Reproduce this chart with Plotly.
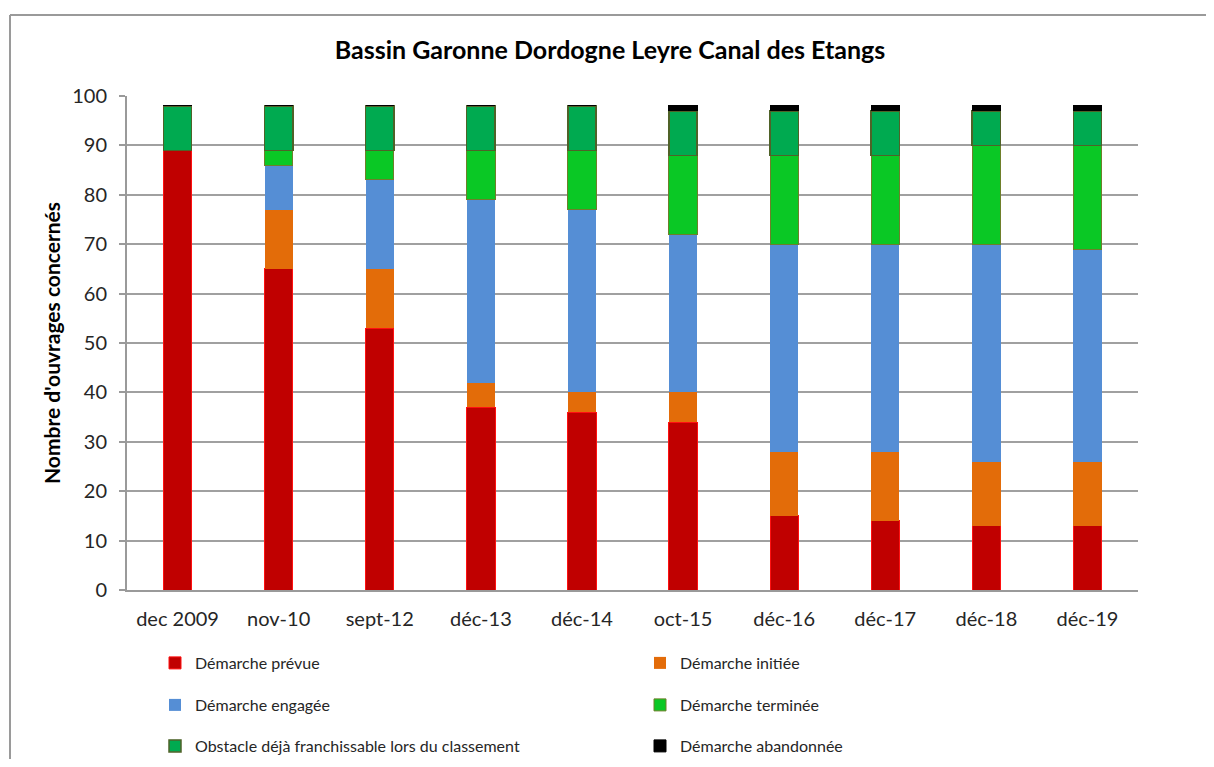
import plotly.graph_objects as go

categories = ["dec 2009", "nov-10", "sept-12", "déc-13", "déc-14", "oct-15", "déc-16", "déc-17", "déc-18", "déc-19"]

prevue      = [89, 65, 53, 37, 36, 34, 15, 14, 13, 13]
initiee     = [0, 12, 12, 5, 4, 6, 13, 14, 13, 13]
engagee     = [0, 9, 18, 37, 37, 32, 42, 42, 44, 43]
terminee    = [0, 3, 6, 10, 12, 16, 18, 18, 20, 21]
obstacle    = [9, 9, 9, 9, 9, 9, 9, 9, 7, 7]
abandonnee  = [0, 0, 0, 0, 0, 1, 1, 1, 1, 1]

series = [
    ("Démarche prévue", prevue, "#C00000", "#FF1010", 1, "legend"),
    ("Démarche initiée", initiee, "#E36C09", "#E36C09", 0, "legend"),
    ("Démarche engagée", engagee, "#558ED5", "#558ED5", 0, "legend2"),
    ("Démarche terminée", terminee, "#0AC825", "#6E7F2A", 1, "legend2"),
    ("Obstacle déjà franchissable lors du classement", obstacle, "#00AA50", "#4F6228", 1.5, "legend3"),
    ("Démarche abandonnée", abandonnee, "#000000", "#000000", 1, "legend3"),
]

FONT = "Lato"
fig = go.Figure()
for name, vals, col, lcol, lw, leg in series:
    fig.add_trace(go.Bar(
        x=categories, y=vals, name=name,
        marker=dict(color=col, line=dict(color=lcol, width=lw)),
        legend=leg,
    ))

# page has an 8px body margin; figure sized to fit the window without scrollbars
OFF = 8
W, H = 1214 - 2 * OFF, 767 - 2 * OFF
PL, PR, PT, PB = 127, 1138, 96, 590  # plot area in page pixels
L = PL - OFF
T = PT - OFF
pw = PR - PL
ph = PB - PT
R = W - L - pw
B = H - T - ph

def px_x(xp):
    return (xp - PL) / pw

def px_y(yp):
    return (PB - yp) / ph

def legend_at(ypx):
    return dict(
        orientation="h", x=px_x(155), xanchor="left",
        y=px_y(ypx), yanchor="middle",
        entrywidth=440, entrywidthmode="pixels",
        font=dict(family=FONT, size=16, color="#262626"),
        bgcolor="rgba(0,0,0,0)", traceorder="normal",
    )

border = dict(color="#9a9a9a", width=2)

fig.update_layout(
    width=W, height=H,
    margin=dict(l=L, r=R, t=T, b=B, autoexpand=False),
    barmode="stack", bargap=0.72,
    paper_bgcolor="white", plot_bgcolor="white",
    font=dict(family=FONT, color="#262626"),
    title=dict(text="<b>Bassin Garonne Dordogne Leyre Canal des Etangs</b>",
               x=(610 - OFF) / W, xanchor="center", y=1 - (50 - OFF) / H, yanchor="middle",
               font=dict(family=FONT, size=25, color="#000000")),
    legend=legend_at(663),
    legend2=legend_at(705),
    legend3=legend_at(746),
    showlegend=True,
    xaxis=dict(showline=True, linecolor="#9a9a9a", linewidth=2, ticks="",
               tickfont=dict(family=FONT, size=20, color="#262626"),
               ticklabelstandoff=10),
    yaxis=dict(range=[0, 100], dtick=10, showgrid=True, gridcolor="#a0a0a0", gridwidth=2,
               showline=True, linecolor="#9a9a9a", linewidth=2,
               ticks="outside", ticklen=6, tickcolor="#9a9a9a", tickwidth=2,
               tickfont=dict(family=FONT, size=20, color="#262626"),
               ticklabelstandoff=8,
               zeroline=False,
               title=dict(text="<b>Nombre d'ouvrages concernés</b>", standoff=6,
                          font=dict(family=FONT, size=21, color="#000000"))),
    shapes=[
        dict(type="line", xref="paper", yref="paper",
             x0=px_x(10), x1=1.3, y0=px_y(15), y1=px_y(15), line=border, layer="below"),
        dict(type="line", xref="paper", yref="paper",
             x0=px_x(10), x1=px_x(10), y0=px_y(15), y1=-0.6, line=border, layer="below"),
    ],
)

fig.write_html("out.html")
